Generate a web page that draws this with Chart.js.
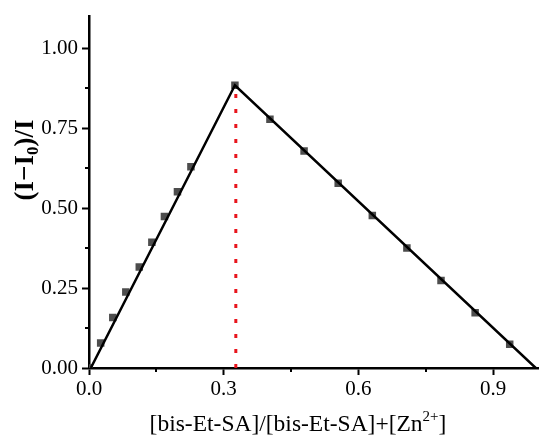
<!DOCTYPE html>
<html>
<head>
<meta charset="utf-8">
<script src="https://cdn.jsdelivr.net/npm/chart.js@4.4.1/dist/chart.umd.min.js"></script>
<style>
html,body{margin:0;padding:0;background:#fff;}
#wrap{width:550px;height:441px;}
</style>
</head>
<body>
<div id="wrap"><canvas id="c" width="550" height="441"></canvas></div>
<script>
// Measured data
const xPoints = [0.000, 0.026, 0.053, 0.082, 0.112, 0.140, 0.168, 0.197, 0.227, 0.325, 0.403, 0.479, 0.555, 0.631, 0.708, 0.784, 0.860, 0.937];
const yPoints = [0.000, 0.078, 0.158, 0.238, 0.316, 0.394, 0.474, 0.552, 0.630, 0.885, 0.779, 0.679, 0.578, 0.477, 0.376, 0.274, 0.173, 0.074];
// Linear fit lines (rise and fall)
const fitX = [0.004, 0.325, 0.995];
const fitY = [0.000, 0.885, 0.000];
// Red dotted drop line at stoichiometric point
const dropX = [0.327, 0.327];
const dropY = [0.000, 0.885];
// Tick labels
const xTicks = [0.0, 0.3, 0.6, 0.9];
const xMinor = [0.15, 0.45, 0.75];
const yTicks = [0.00, 0.25, 0.50, 0.75, 1.00];
const yMinor = [0.125, 0.375, 0.625, 0.875];

const xTitle = ['[bis-Et-SA]/[bis-Et-SA]+[Zn', '2+', ']'];
const yTitle = ['(I\u2212I', '0', ')/I'];

const toXY = (xs, ys) => xs.map((x, i) => ({x: x, y: ys[i]}));
const FONT = "'Liberation Serif', 'Times New Roman', serif";

const extras = {
  id: 'extras',
  afterDraw(chart) {
    const ctx = chart.ctx;
    const xs = chart.scales.x, ys = chart.scales.y;
    ctx.save();
    ctx.strokeStyle = '#000';
    ctx.lineWidth = 2;
    // minor ticks
    xMinor.forEach(v => {
      const px = Math.round(xs.getPixelForValue(v));
      ctx.beginPath(); ctx.moveTo(px, ys.bottom); ctx.lineTo(px, ys.bottom + 4); ctx.stroke();
    });
    yMinor.forEach(v => {
      const py = Math.round(ys.getPixelForValue(v));
      ctx.beginPath(); ctx.moveTo(xs.left, py); ctx.lineTo(xs.left - 4, py); ctx.stroke();
    });
    ctx.fillStyle = '#000';
    // x title with superscript
    ctx.textBaseline = 'alphabetic';
    ctx.textAlign = 'left';
    const fMain = '23.5px ' + FONT, fSup = '15px ' + FONT;
    ctx.font = fMain; const w1 = ctx.measureText(xTitle[0]).width; const w3 = ctx.measureText(xTitle[2]).width;
    ctx.font = fSup; const w2 = ctx.measureText(xTitle[1]).width;
    const total = w1 + w2 + w3;
    let sx = 298 - total / 2; const by = 431;
    ctx.font = fMain; ctx.fillText(xTitle[0], sx, by);
    ctx.font = fSup; ctx.fillText(xTitle[1], sx + w1, by - 10);
    ctx.font = fMain; ctx.fillText(xTitle[2], sx + w1 + w2, by);
    // y title rotated with subscript
    ctx.translate(33, 160);
    ctx.rotate(-Math.PI / 2);
    const yMain = 'bold 27px ' + FONT, ySub = 'bold 17px ' + FONT;
    ctx.font = yMain; const a1 = ctx.measureText(yTitle[0]).width, a3 = ctx.measureText(yTitle[2]).width;
    ctx.font = ySub; const a2 = ctx.measureText(yTitle[1]).width;
    let tx = -(a1 + a2 + a3) / 2;
    ctx.font = yMain; ctx.fillText(yTitle[0], tx, 0);
    ctx.font = ySub; ctx.fillText(yTitle[1], tx + a1, 5);
    ctx.font = yMain; ctx.fillText(yTitle[2], tx + a1 + a2, 0);
    ctx.restore();
  }
};

new Chart(document.getElementById('c'), {
  type: 'scatter',
  data: {
    datasets: [
      {
        data: toXY(dropX, dropY), showLine: true, borderColor: '#e8141c', borderWidth: 3,
        borderDash: [4, 11], pointRadius: 0, order: 0
      },
      {
        data: toXY(fitX, fitY), showLine: true, borderColor: '#000', borderWidth: 2.5,
        pointRadius: 0, order: 1
      },
      {
        data: toXY(xPoints, yPoints), showLine: false, pointStyle: 'rect', pointRadius: 5.3,
        backgroundColor: '#4d4d4d', borderWidth: 0, order: 2
      }
    ]
  },
  options: {
    responsive: false,
    animation: false,
    events: [],
    layout: { padding: { top: 15, right: 12, left: 0, bottom: 0 } },
    plugins: { legend: { display: false }, tooltip: { enabled: false } },
    scales: {
      x: {
        type: 'linear', min: 0, max: 1.0,
        afterBuildTicks: s => { s.ticks = xTicks.map(v => ({ value: v })); },
        afterFit: s => { s.height = 73; },
        border: { color: '#000', width: 2.5 },
        grid: { display: true, drawOnChartArea: false, drawTicks: true, tickLength: 7, tickWidth: 2, tickColor: '#000' },
        ticks: { color: '#000', font: { family: FONT, size: 21 }, padding: 2, maxRotation: 0,
                 callback: v => v.toFixed(1) }
      },
      y: {
        type: 'linear', min: 0, max: 1.10,
        afterBuildTicks: s => { s.ticks = yTicks.map(v => ({ value: v })); },
        afterFit: s => { s.width = 89; },
        border: { color: '#000', width: 2.5 },
        grid: { display: true, drawOnChartArea: false, drawTicks: true, tickLength: 7, tickWidth: 2, tickColor: '#000' },
        ticks: { color: '#000', font: { family: FONT, size: 21 }, padding: 4,
                 callback: v => v.toFixed(2) }
      }
    }
  },
  plugins: [extras]
});
</script>
</body>
</html>
